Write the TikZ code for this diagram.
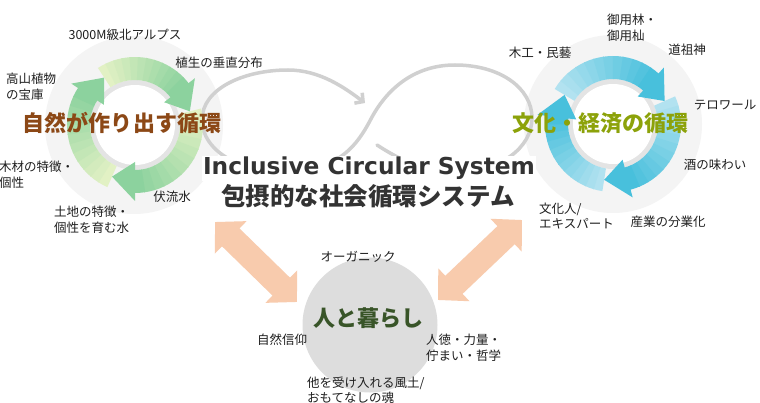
\documentclass[tikz,border=0pt]{standalone}
\usepackage{fontspec}
\setmainfont{Noto Sans CJK JP}
\newfontfamily\dejavu{DejaVu Sans}
\usetikzlibrary{arrows.meta}
\definecolor{brownT}{RGB}{140,72,22}
\definecolor{oliveT}{RGB}{140,162,10}
\definecolor{greenT}{RGB}{56,84,40}
\definecolor{titleT}{RGB}{51,51,51}
\definecolor{loopC}{RGB}{208,208,208}
\definecolor{peach}{RGB}{248,203,173}
\definecolor{lifeC}{RGB}{221,221,221}
\definecolor{faintC}{RGB}{244,244,244}
\definecolor{haloC}{RGB}{228,228,228}
\definecolor{gTail}{RGB}{226,241,196}
\definecolor{gHead}{RGB}{140,210,158}
\definecolor{bTail}{RGB}{178,226,240}
\definecolor{bHead}{RGB}{72,192,220}
\newcommand{\ringbody}[4]{%
  \foreach \k in {0,...,11}{%
    \pgfmathsetmacro\sa{#1+((#2+24)-(#1))*\k/12}%
    \pgfmathsetmacro\ea{#1+((#2+24)-(#1))*(\k+1)/12-0.8}%
    \pgfmathtruncatemacro\pc{100*\k/11}%
    \fill[#4!\pc!#3] (\sa:45) arc[start angle=\sa,end angle=\ea,radius=45]
      -- (\ea:68) arc[start angle=\ea,end angle=\sa,radius=68] -- cycle;
  }}
\newcommand{\ringhead}[2]{%
  \pgfmathsetmacro\hb{#1+24}%
  \fill[#2] (\hb:37) -- (#1:56.5) -- (\hb:76) -- cycle;}
\begin{document}
\begin{tikzpicture}[x=1pt,y=-1pt,
  lbl/.style={inner sep=0pt, font=\fontsize{12.5}{15.5}\selectfont, text=black!88},
  lbll/.style={lbl, align=left, anchor=west},
  cyctitle/.style={inner sep=0pt, font=\fontsize{22}{26}\selectfont\bfseries},
  faint/.style={circle, fill=faintC, minimum size=178pt, inner sep=0pt},
  lifeball/.style={circle, fill=lifeC, minimum size=135pt, inner sep=0pt},
  loopline/.style={draw=loopC, line width=3.5pt, line cap=round},
  bigarrow/.style={draw=peach, line width=25pt,
    {Triangle[length=22pt,width=44pt]}-{Triangle[length=22pt,width=44pt]}}]
\fill[white] (0,0) rectangle (760,403);
\useasboundingbox (0,0) rectangle (760,403);

% faint discs
\node[faint] (natdisc) at (134,125) {};
\node[faint] (culdisc) at (613,124) {};

% figure-eight loop
\draw[loopline, -{Straight Barb[length=6pt,width=13pt]}]
  (377,145) .. controls (400,160) and (425,172) .. (455,172)
  .. controls (500,172) and (532,148) .. (532,118)
  .. controls (532,88) and (500,65) .. (455,65)
  .. controls (415,65) and (388,88) .. (372,117)
  .. controls (360,140) and (345,165) .. (300,172)
  .. controls (240,176) and (202,150) .. (202,120)
  .. controls (202,88) and (245,70) .. (288,70)
  .. controls (320,70) and (345,88) .. (365,103);

% left cycle ring
\begin{scope}[shift={(135,125)}, yscale=-1]
  \fill[haloC] (0,0) circle[radius=45];
  \fill[white] (0,0) circle[radius=40];
  \ringbody{246}{123}{gTail}{gHead}
  \ringbody{123}{14}{gTail}{gHead}
  \ringbody{14}{-114}{gTail}{gHead}
  \ringhead{123}{gHead}
  \ringhead{14}{gHead}
  \ringhead{-114}{gHead}
\end{scope}

% right cycle ring
\begin{scope}[shift={(613,124)}, yscale=-1]
  \fill[haloC] (0,0) circle[radius=45];
  \fill[white] (0,0) circle[radius=40];
  \ringbody{261}{149}{bTail}{bHead}
  \ringbody{149}{24}{bTail}{bHead}
  \ringbody{24}{-99}{bTail}{bHead}
  \ringhead{149}{bHead}
  \ringhead{24}{bHead}
  \ringhead{-99}{bHead}
\end{scope}

% cycle titles
\node[cyctitle, text=brownT] (natT) at (122,123) {自然が作り出す循環};
\node[cyctitle, text=oliveT] (culT) at (600,123) {文化・経済の循環};

% central title
\node[fill=white, inner sep=1pt, anchor=base, text=titleT,
  font=\dejavu\bfseries\fontsize{23.3}{26}\selectfont] (sysE) at (369,175) {Inclusive Circular System};
\node[inner sep=0pt, text=titleT, font=\fontsize{24.5}{28}\selectfont\bfseries] (sysJ) at (368,196) {包摂的な社会循環システム};

% orange double arrows
\coordinate (la1) at (215,222);
\coordinate (la2) at (297,302);
\coordinate (ra1) at (522,220);
\coordinate (ra2) at (438,300);
\draw[bigarrow] (la1) -- (la2);
\draw[bigarrow] (ra1) -- (ra2);

% people & living
\node[lifeball] (life) at (370,325) {};
\node[cyctitle, text=greenT] (lifeT) at (368,318) {人と暮らし};

% left cycle labels
\node[lbl] (alps) at (125,35) {3000M級北アルプス};
\node[lbl] (veg) at (219,63) {植生の垂直分布};
\node[lbll] (flora) at (6,87) {高山植物\\の宝庫};
\node[lbll] (wood) at (-1,175) {木材の特徴・\\個性};
\node[lbll] (land) at (54,220) {土地の特徴・\\個性を育む水};
\node[lbl] (under) at (172,197) {伏流水};

% right cycle labels
\node[lbll] (forest) at (607,28) {御用林・\\御用杣};
\node[lbl] (dosojin) at (687,50) {道祖神};
\node[lbl] (craft) at (540,53) {木工・民藝};
\node[lbl] (terroir) at (725,105) {テロワール};
\node[lbl] (sake) at (715,165) {酒の味わい};
\node[lbll] (expert) at (539,216) {文化人/\\エキスパート};
\node[lbl] (industry) at (668,222) {産業の分業化};

% bottom labels
\node[lbl] (organic) at (358,257) {オーガニック};
\node[lbl] (faith) at (282,340) {自然信仰};
\node[lbll] (virtue) at (426,348) {人徳・力量・\\佇まい・哲学};
\node[lbll] (spirit) at (307,390) {他を受け入れる風土/\\おもてなしの魂};
\end{tikzpicture}
\end{document}
